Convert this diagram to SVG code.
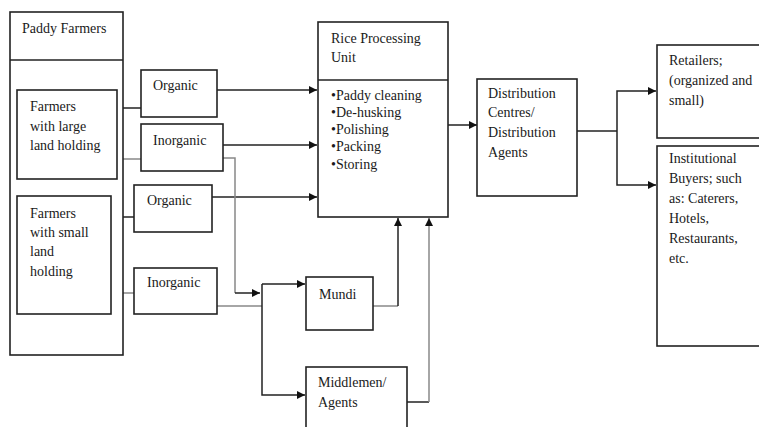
<svg xmlns="http://www.w3.org/2000/svg" width="759" height="427" viewBox="0 0 759 427">
<defs>
<marker id="ah" viewBox="0 0 10 10" refX="10" refY="5" markerWidth="9" markerHeight="8" markerUnits="userSpaceOnUse" orient="auto">
<path d="M0,0 L10,5 L0,10 z" fill="#111"/>
</marker>
<style>
.box{fill:#fff;stroke:#222;stroke-width:1.6}
.t{font-family:"Liberation Serif","Times New Roman",serif;font-size:14px;fill:#1a1a1a}
.c{fill:none;stroke:#222;stroke-width:1.5}
.g{fill:none;stroke:#888;stroke-width:1.5}
.a{marker-end:url(#ah)}
</style>
</defs>
<rect width="759" height="427" fill="#fff"/>

<g id="connectors">
<path class="c" d="M117,108 H141"/>
<path class="g" d="M117,159 H141"/>
<path class="c" d="M111,217 H134"/>
<path class="g" d="M111,293 H134"/>
<path class="c a" d="M217,90 H317"/>
<path class="c a" d="M223,145 H317"/>
<path class="c a" d="M212,197 H317"/>
<path class="g" d="M223,158 H235 V293"/>
<path class="c a" d="M235,293 H260"/>
<path class="g" d="M217,306 H262"/>
<path class="c" d="M262,284 V306"/>
<path class="c a" d="M262,284 H305"/>
<path class="c a" d="M262,306 V395 H305"/>
<path class="g" d="M373,306 H398"/>
<path class="c a" d="M398,306 V218"/>
<path class="c" d="M407,402 H429"/>
<path class="g a" d="M429,402 V218"/>
<path class="c a" d="M448,125 H477"/>
<path class="c" d="M577,131 H617"/>
<path class="c a" d="M617,131 V91 H656"/>
<path class="c a" d="M617,131 V185 H656"/>
</g>

<g id="paddy-farmers">
<rect class="box" x="10" y="12" width="113" height="343"/>
<line x1="10" y1="60" x2="123" y2="60" stroke="#222" stroke-width="1.6"/>
<text class="t" x="22" y="33">Paddy Farmers</text>
</g>

<g id="large-farmers">
<rect class="box" x="17" y="90" width="100" height="89"/>
<text class="t" x="30" y="111">Farmers</text>
<text class="t" x="30" y="131">with large</text>
<text class="t" x="30" y="150">land holding</text>
</g>

<g id="small-farmers">
<rect class="box" x="17" y="196" width="94" height="118"/>
<text class="t" x="30" y="218">Farmers</text>
<text class="t" x="30" y="237">with small</text>
<text class="t" x="30" y="256">land</text>
<text class="t" x="30" y="276">holding</text>
</g>

<g id="organic-1">
<rect class="box" x="141" y="70" width="76" height="47"/>
<text class="t" x="153" y="90">Organic</text>
</g>

<g id="inorganic-1">
<rect class="box" x="141" y="124" width="82" height="47"/>
<text class="t" x="153" y="145">Inorganic</text>
</g>

<g id="organic-2">
<rect class="box" x="134" y="185" width="78" height="47"/>
<text class="t" x="147" y="205">Organic</text>
</g>

<g id="inorganic-2">
<rect class="box" x="134" y="268" width="83" height="46"/>
<text class="t" x="147" y="287">Inorganic</text>
</g>

<g id="rice-processing-unit">
<rect class="box" x="318" y="22" width="130" height="195"/>
<line x1="318" y1="80" x2="448" y2="80" stroke="#222" stroke-width="1.6"/>
<text class="t" x="331" y="43">Rice Processing</text>
<text class="t" x="331" y="62">Unit</text>
<text class="t" x="331" y="100">•Paddy cleaning</text>
<text class="t" x="331" y="117">•De-husking</text>
<text class="t" x="331" y="134">•Polishing</text>
<text class="t" x="331" y="151">•Packing</text>
<text class="t" x="331" y="169">•Storing</text>
</g>

<g id="mundi">
<rect class="box" x="306" y="277" width="67" height="53"/>
<text class="t" x="319" y="299">Mundi</text>
</g>

<g id="middlemen">
<rect class="box" x="306" y="367" width="101" height="70"/>
<text class="t" x="318" y="387">Middlemen/</text>
<text class="t" x="318" y="407">Agents</text>
</g>

<g id="distribution">
<rect class="box" x="477" y="79" width="100" height="117"/>
<text class="t" x="488" y="98">Distribution</text>
<text class="t" x="488" y="117">Centres/</text>
<text class="t" x="488" y="137">Distribution</text>
<text class="t" x="488" y="157">Agents</text>
</g>

<g id="retailers">
<rect class="box" x="657" y="45" width="110" height="93"/>
<text class="t" x="669" y="65">Retailers;</text>
<text class="t" x="669" y="85">(organized and</text>
<text class="t" x="669" y="105">small)</text>
</g>

<g id="institutional">
<rect class="box" x="657" y="146" width="110" height="200"/>
<text class="t" x="669" y="163">Institutional</text>
<text class="t" x="669" y="183">Buyers; such</text>
<text class="t" x="669" y="203">as: Caterers,</text>
<text class="t" x="669" y="223">Hotels,</text>
<text class="t" x="669" y="243">Restaurants,</text>
<text class="t" x="669" y="263">etc.</text>
</g>
</svg>
